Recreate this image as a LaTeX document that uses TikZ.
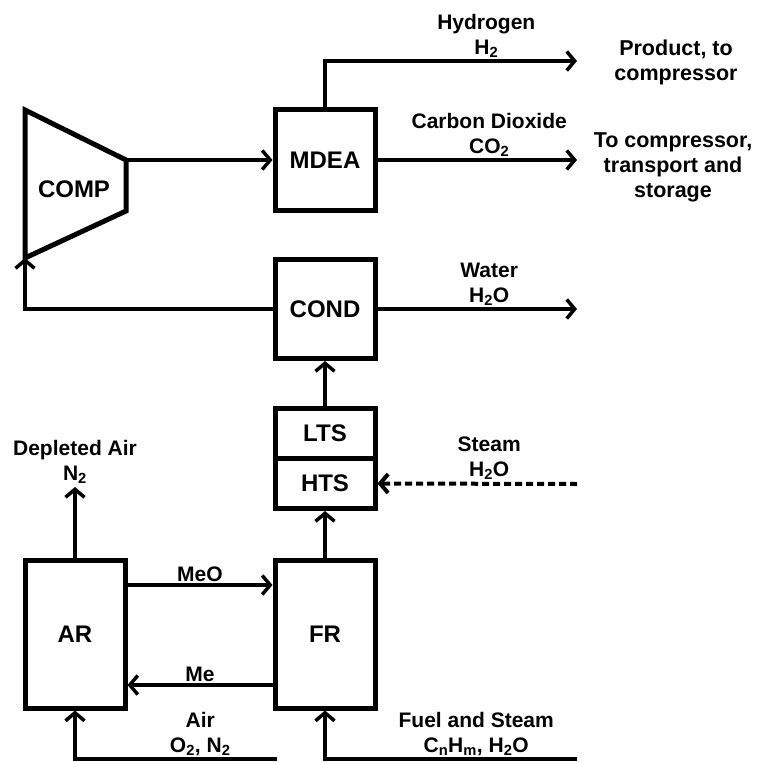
\documentclass[tikz,border=0pt]{standalone}
\usepackage{fontspec}
\setmainfont{Liberation Sans}
\usetikzlibrary{arrows.meta,positioning}

\begin{document}
\begin{tikzpicture}[x=1pt,y=-1pt,>={Straight Barb[length=8pt,width=19pt]},
  line width=3.5pt,
  every node/.style={font=\bfseries},
  unit/.style={draw,line width=5pt,minimum width=100pt,
    font=\bfseries\fontsize{24}{28}\selectfont},
  lab/.style={font=\bfseries\fontsize{21}{25}\selectfont,align=center,inner sep=2pt},
  note/.style={font=\bfseries\fontsize{21.5}{25}\selectfont,align=center},
  feed/.style={->,dash pattern=on 7pt off 4pt,line width=4pt}]
\useasboundingbox (0,0) rectangle (759,762);
% compressor
\coordinate (c1) at (25,110);
\coordinate (c2) at (126,160);
\coordinate (c3) at (126,211);
\coordinate (c4) at (25,258);
\draw[line width=5pt] (c1) -- (c2) -- (c3) -- (c4) -- cycle;
\node[font=\bfseries\fontsize{24}{28}\selectfont] (comp) at (74,189) {COMP};
% units
\node[unit,minimum height=100pt] (mdea) at (325,160) {MDEA};
\node[unit,minimum height=99pt] (cond) at (325,309) {COND};
\node[unit,minimum height=50pt] (lts) at (325,433) {LTS};
\node[unit,minimum height=50pt,below=-4.5pt of lts] (hts) {HTS};
\node[unit,minimum height=148pt] (fr) at (325,634) {FR};
\node[unit,minimum height=148pt] (ar) at (75,634) {AR};
% stream ends
\coordinate (h2) at (577,61);
\coordinate (co2) at (577,160);
\coordinate (water) at (577,309);
\coordinate (steam) at (577,484);
\coordinate (n2) at (75,487);
\coordinate (airin) at (277,759);
\coordinate (fuelin) at (577,759);
\node[note] (prod) at (676,62) {Product, to\\compressor};
\node[note] (store) at (673,167) {To compressor,\\transport and\\storage};
% streams
\draw[->] (c2) -- (mdea.west);
\draw[->] (mdea.north) |- node[lab,above,pos=0.82] {Hydrogen\\H\textsubscript{2}} (h2);
\draw[->] (mdea) -- node[lab,above,pos=0.56] {Carbon Dioxide\\CO\textsubscript{2}} (co2);
\draw[->] (cond) -- node[lab,above,pos=0.56] {Water\\H\textsubscript{2}O} (water);
\draw[->] (cond.west) -| (c4);
\draw[->] (lts) -- (cond);
\draw[feed] (steam) -- node[lab,above,pos=0.44] {Steam\\H\textsubscript{2}O} (hts.east);
\draw[->] (fr) -- (hts);
\draw[->] (ar) -- (n2) node[lab,above] {Depleted Air\\N\textsubscript{2}};
\draw[->] ([yshift=49pt]ar.east) -- node[lab,above] {MeO} ([yshift=49pt]fr.west);
\draw[->] ([yshift=-51pt]fr.west) -- node[lab,above] {Me} ([yshift=-51pt]ar.east);
\draw[->] (airin) -| node[lab,above,pos=0.19] {Air\\O\textsubscript{2}, N\textsubscript{2}} (ar);
\draw[->] (fuelin) -| node[lab,above,pos=0.2] {Fuel and Steam\\C\textsubscript{n}H\textsubscript{m}, H\textsubscript{2}O} (fr);
\end{tikzpicture}
\end{document}
